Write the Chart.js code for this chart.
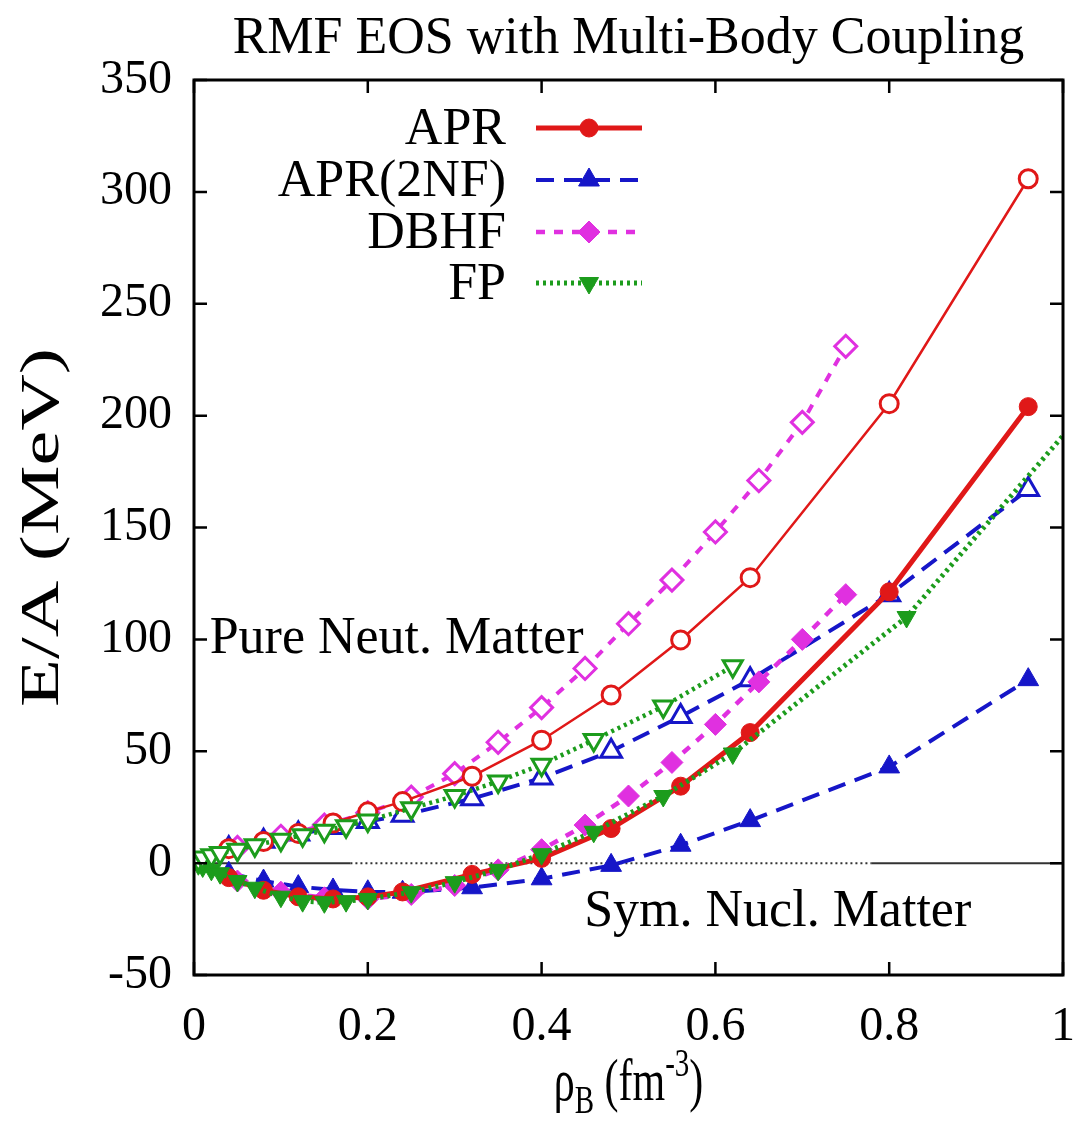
<!DOCTYPE html>
<html>
<head>
<meta charset="utf-8">
<script src="https://cdn.jsdelivr.net/npm/chart.js@4.4.0/dist/chart.umd.min.js"></script>
<style>
  html, body { margin: 0; padding: 0; background: #fff; }
  #wrap { width: 1079px; height: 1121px; }
</style>
</head>
<body>
<div id="wrap"><canvas id="eos"></canvas></div>
<script>
// APR (A18+dv+UIX*) and APR(2NF)
const aprRho = [0.04, 0.08, 0.12, 0.16, 0.20, 0.24, 0.32, 0.40, 0.48, 0.56, 0.64, 0.80, 0.96];
const aprPNM = [6.45, 9.65, 13.29, 17.94, 22.92, 27.49, 38.82, 54.95, 75.13, 99.75, 127.58, 205.34, 305.87];
const aprSNM = [-6.48, -12.13, -15.04, -16.00, -15.09, -12.88, -5.03, 2.13, 15.46, 34.39, 58.35, 121.25, 204.02];
const apr2nfPNM = [6.4, 9.8, 13.0, 15.9, 18.6, 21.4, 28.8, 38.0, 50.0, 65.5, 82.0, 120.0, 167.0];
const apr2nfSNM = [-4.5, -8.0, -10.5, -12.0, -12.8, -13.0, -11.0, -7.0, -1.0, 8.0, 19.0, 43.0, 82.0];

// DBHF
const dbhfRho = [0.05, 0.10, 0.15, 0.20, 0.25, 0.30, 0.35, 0.40, 0.45, 0.50, 0.55, 0.60, 0.65, 0.70, 0.75];
const dbhfPNM = [7, 12, 17, 22.5, 29.5, 40, 54, 69.5, 87, 107, 126.5, 148, 171, 197, 231];
const dbhfSNM = [-8, -13, -15.5, -16, -14, -10, -3, 6, 17, 30, 45, 62, 81, 100, 120];

// FP
const fpRhoPNM = [0.005, 0.01, 0.02, 0.03, 0.05, 0.07, 0.10, 0.125, 0.15, 0.175, 0.20, 0.25, 0.30, 0.35, 0.40, 0.46, 0.54, 0.62];
const fpPNM = [1.5, 2.5, 3.5, 4.5, 6, 8, 10.5, 12.5, 14.5, 16.5, 19, 24.5, 30, 36.5, 44, 55, 70, 88];
const fpRhoSNM = [0.005, 0.01, 0.02, 0.03, 0.05, 0.07, 0.10, 0.125, 0.15, 0.175, 0.20, 0.25, 0.30, 0.35, 0.40, 0.46, 0.54, 0.62, 0.82, 1.10];
const fpSNM = [-0.5, -1.5, -3, -4.5, -8, -11, -15, -17, -17.5, -17, -16, -13, -8.5, -3, 4, 14, 30, 49, 110, 236];

// zero reference line
const zeroRho = [0, 0.18, 0.78, 1.0];
const zeroVal = [0, 0, 0, 0];

const xTicks = [0, 0.2, 0.4, 0.6, 0.8, 1];
const yTicks = [-50, 0, 50, 100, 150, 200, 250, 300, 350];

const legendNames = ['APR', 'APR(2NF)', 'DBHF', 'FP'];

const RED = '#e01818';
const BLUE = '#1616c8';
const MAGENTA = '#e030e0';
const GREEN = '#1c9c1c';
const FONT = "'Liberation Serif'";

function pts(xs, ys) {
    return xs.map((x, i) => ({ x: x, y: ys[i] }));
}

const datasets = [
    { label: 'FP PNM', data: pts(fpRhoPNM, fpPNM), borderColor: GREEN, borderWidth: 4.5, borderDash: [3, 4],
      pointStyle: 'triangle', rotation: 180, pointRadius: 11, pointBorderWidth: 3,
      pointBackgroundColor: '#fff', pointBorderColor: GREEN, order: 0 },
    { label: 'FP SNM', data: pts(fpRhoSNM, fpSNM), borderColor: GREEN, borderWidth: 5, borderDash: [3, 4],
      pointStyle: 'triangle', rotation: 180, pointRadius: 11, pointBorderWidth: 1,
      pointBackgroundColor: GREEN, pointBorderColor: GREEN, order: 1 },
    { label: 'APR PNM', data: pts(aprRho, aprPNM), borderColor: RED, borderWidth: 2.5,
      pointStyle: 'circle', pointRadius: 9, pointBorderWidth: 3,
      pointBackgroundColor: '#fff', pointBorderColor: RED, order: 2 },
    { label: 'APR SNM', data: pts(aprRho, aprSNM), borderColor: RED, borderWidth: 5,
      pointStyle: 'circle', pointRadius: 9, pointBorderWidth: 1,
      pointBackgroundColor: RED, pointBorderColor: RED, order: 3 },
    { label: 'DBHF PNM', data: pts(dbhfRho, dbhfPNM), borderColor: MAGENTA, borderWidth: 4, borderDash: [9, 9],
      pointStyle: 'rectRot', pointRadius: 11, pointBorderWidth: 3,
      pointBackgroundColor: '#fff', pointBorderColor: MAGENTA, order: 4 },
    { label: 'DBHF SNM', data: pts(dbhfRho, dbhfSNM), borderColor: MAGENTA, borderWidth: 4.5, borderDash: [9, 9],
      pointStyle: 'rectRot', pointRadius: 11, pointBorderWidth: 1,
      pointBackgroundColor: MAGENTA, pointBorderColor: MAGENTA, order: 5 },
    { label: 'APR2NF PNM', data: pts(aprRho, apr2nfPNM), borderColor: BLUE, borderWidth: 4, borderDash: [18, 10],
      pointStyle: 'triangle', pointRadius: 12, pointBorderWidth: 3,
      pointBackgroundColor: '#fff', pointBorderColor: BLUE, order: 6 },
    { label: 'APR2NF SNM', data: pts(aprRho, apr2nfSNM), borderColor: BLUE, borderWidth: 4, borderDash: [18, 10],
      pointStyle: 'triangle', pointRadius: 12, pointBorderWidth: 1,
      pointBackgroundColor: BLUE, pointBorderColor: BLUE, order: 7 },
    { label: 'zero', data: pts(zeroRho, zeroVal), borderColor: '#333', borderWidth: 2, pointRadius: 0,
      segment: { borderDash: c => c.p0DataIndex === 1 ? [2, 3] : undefined }, order: 8 }
];

// which dataset each legend row copies its style from
const legendSource = [3, 7, 5, 1];

const framePlugin = {
    id: 'frame',
    afterDatasetsDraw(chart) {
        const { ctx, chartArea: a, scales } = chart;
        ctx.save();
        ctx.strokeStyle = '#000';
        ctx.lineWidth = 2.5;
        // inward ticks on all four sides
        ctx.beginPath();
        xTicks.forEach(v => {
            const px = scales.x.getPixelForValue(v);
            ctx.moveTo(px, a.bottom); ctx.lineTo(px, a.bottom - 13);
            ctx.moveTo(px, a.top); ctx.lineTo(px, a.top + 13);
        });
        yTicks.forEach(v => {
            const py = scales.y.getPixelForValue(v);
            ctx.moveTo(a.left, py); ctx.lineTo(a.left + 13, py);
            ctx.moveTo(a.right, py); ctx.lineTo(a.right - 13, py);
        });
        ctx.stroke();
        ctx.lineWidth = 3;
        ctx.strokeRect(a.left, a.top, a.right - a.left, a.bottom - a.top);
        ctx.restore();
    },
    afterDraw(chart) {
        const { ctx, chartArea: a, scales } = chart;
        const big = '52px ' + FONT;
        ctx.save();
        ctx.fillStyle = '#000';
        ctx.font = big;

        // title
        ctx.textAlign = 'center';
        ctx.textBaseline = 'alphabetic';
        ctx.fillText('RMF EOS with Multi-Body Coupling', (a.left + a.right) / 2, 53);

        // annotations
        ctx.textAlign = 'left';
        ctx.textBaseline = 'middle';
        ctx.fillText('Pure Neut. Matter', scales.x.getPixelForValue(0.018), scales.y.getPixelForValue(100));
        ctx.fillText('Sym. Nucl. Matter', scales.x.getPixelForValue(0.449), scales.y.getPixelForValue(-22));

        // y axis title (tall, narrow lettering as in the original)
        ctx.save();
        ctx.translate(44, (a.top + a.bottom) / 2);
        ctx.rotate(-Math.PI / 2);
        ctx.scale(1.45, 1);
        ctx.font = '54px ' + FONT;
        ctx.textAlign = 'center';
        ctx.fillText('E/A (MeV)', 0, 0);
        ctx.restore();

        // x axis title: rho_B (fm^-3)
        const parts = [
            { t: 'ρ', s: 42, dy: 0 },
            { t: 'B', s: 29, dy: 9 },
            { t: ' (fm', s: 42, dy: 0 },
            { t: '-3', s: 29, dy: -17 },
            { t: ')', s: 42, dy: 0 }
        ];
        let total = 0;
        parts.forEach(p => { ctx.font = p.s + 'px ' + FONT; p.w = ctx.measureText(p.t).width; total += p.w; });
        ctx.save();
        ctx.translate((a.left + a.right) / 2 - total / 2, 1100);
        ctx.scale(1, 1.4);
        ctx.textAlign = 'left';
        ctx.textBaseline = 'alphabetic';
        let x = 0;
        parts.forEach(p => { ctx.font = p.s + 'px ' + FONT; ctx.fillText(p.t, x, p.dy); x += p.w; });
        ctx.restore();

        // legend
        const rowY = [128, 180, 232, 283];
        legendNames.forEach((name, i) => {
            const ds = chart.data.datasets[legendSource[i]];
            const y = rowY[i];
            ctx.font = big;
            ctx.fillStyle = '#000';
            ctx.textAlign = 'right';
            ctx.textBaseline = 'middle';
            ctx.fillText(name, 506, y + 2);
            ctx.save();
            ctx.strokeStyle = ds.borderColor;
            ctx.lineWidth = ds.borderWidth;
            ctx.setLineDash(ds.borderDash || []);
            ctx.beginPath();
            ctx.moveTo(536, y); ctx.lineTo(642, y);
            ctx.stroke();
            ctx.setLineDash([]);
            ctx.fillStyle = ds.pointBackgroundColor;
            ctx.strokeStyle = ds.pointBorderColor;
            ctx.lineWidth = ds.pointBorderWidth;
            Chart.helpers.drawPoint(ctx, {
                pointStyle: ds.pointStyle, radius: ds.pointRadius,
                rotation: ds.rotation || 0, borderWidth: ds.pointBorderWidth
            }, 589, y);
            ctx.restore();
        });
        ctx.restore();
    }
};

const chart = new Chart(document.getElementById('eos'), {
    type: 'line',
    data: { datasets: datasets },
    options: {
        responsive: true,
        maintainAspectRatio: false,
        animation: false,
        devicePixelRatio: 1,
        layout: { padding: { top: 80, right: 16, left: 0, bottom: 0 } },
        plugins: {
            legend: { display: false },
            tooltip: { enabled: false },
            title: { display: false }
        },
        scales: {
            x: {
                type: 'linear',
                min: 0, max: 1,
                afterBuildTicks: s => { s.ticks = xTicks.map(v => ({ value: v })); },
                afterFit: s => { s.height = 146; s.paddingLeft = 0; s.paddingRight = 0; },
                grid: { display: false, drawTicks: false },
                border: { display: false },
                ticks: {
                    color: '#000', padding: 24,
                    font: { family: FONT, size: 48 },
                    maxRotation: 0,
                    callback: v => String(v)
                }
            },
            y: {
                type: 'linear',
                min: -50, max: 350,
                afterBuildTicks: s => { s.ticks = yTicks.map(v => ({ value: v })); },
                afterFit: s => { s.width = 194; },
                grid: { display: false, drawTicks: false },
                border: { display: false },
                ticks: {
                    color: '#000', padding: 22,
                    font: { family: FONT, size: 48 },
                    callback: v => String(v)
                }
            }
        }
    },
    plugins: [framePlugin]
});

document.fonts.ready.then(() => chart.update());
</script>
</body>
</html>
